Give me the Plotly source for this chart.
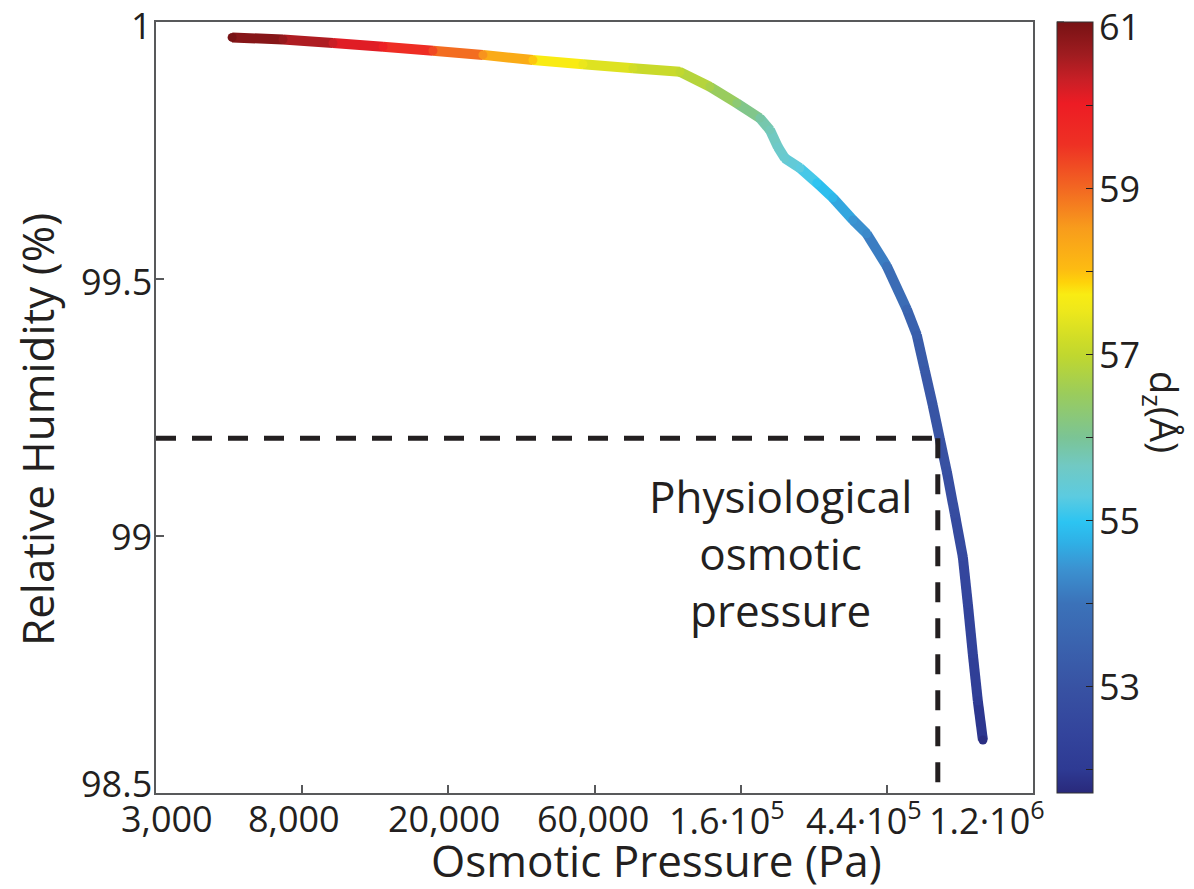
import numpy as np
import plotly.graph_objects as go
from plotly.colors import sample_colorscale

# ---------------- data ----------------
pressure_pa = [5050, 7150, 10070, 14180, 19950, 28090, 39540, 55680, 78390, 108100,
               132700, 159600, 186700, 200100, 211200, 221600, 245600, 275800, 307800,
               352800, 388200, 445200, 510600, 546600, 577500, 610200, 639600, 670800,
               708900, 748800, 774900, 801900, 829800, 859200]
rel_humidity = [99.970, 99.966, 99.959, 99.952, 99.944, 99.936, 99.926, 99.918, 99.910,
                99.903, 99.874, 99.842, 99.813, 99.790, 99.757, 99.735, 99.716, 99.687,
                99.658, 99.615, 99.588, 99.525, 99.441, 99.391, 99.322, 99.253, 99.189,
                99.126, 99.043, 98.959, 98.868, 98.770, 98.679, 98.603]
d_z = [61.0, 60.7, 60.3, 59.95, 59.3, 58.6, 57.95, 57.5, 57.2, 57.0,
       56.7, 56.3, 55.9, 55.75, 55.6, 55.5, 55.3, 55.0, 54.8, 54.45,
       54.3, 54.0, 53.6, 53.35, 53.2, 53.1, 53.0, 52.9, 52.75, 52.6,
       52.45, 52.3, 52.1, 51.8]

phys_pressure = 631000
phys_rh = 99.19

x_tick_vals = [3000, 8155, 22167, 60257, 163794, 445239, 1210286]
x_tick_text = ["3,000", "8,000", "20,000", "60,000",
               "1.6·10<sup>5</sup>", "4.4·10<sup>5</sup>", "1.2·10<sup>6</sup>"]
y_tick_vals = [98.5, 99, 99.5, 100]
y_tick_text = ["98.5", "99", "99.5", "1"]
cb_tick_vals = [52, 53, 54, 55, 56, 57, 58, 59, 60, 61]
cb_label_vals = [53, 55, 57, 59, 61]
cb_label_text = ["53", "55", "57", "59", "61"]

d_min, d_max = 51.72, 61.0
x_range_pa = [3000, 1210286]
y_range = [98.5, 100]

# ---------------- style ----------------
# label offsets (px) as placed in the original artwork
x_label_shift = [11, -8, -4, -2, -14, -23, -46]
y_label_shift = [10, 0, -2, -3]
cb_label_shift = [0, 0, 0, 0, -4]

stops = [(51.72, "#29297b"), (52.0, "#2e3a93"), (52.43, "#33449c"), (52.99, "#3852a3"),
         (53.49, "#3a62ae"), (54.0, "#3b72b9"), (54.42, "#3b92d1"), (54.73, "#2fb0e6"),
         (54.98, "#2cc4f2"), (55.29, "#5ccbe0"), (55.66, "#71c9c3"), (56.0, "#7bc495"),
         (56.53, "#9bcc5b"), (56.97, "#bfd730"), (57.16, "#cedc28"), (57.53, "#eee81b"),
         (57.72, "#f9ec13"), (57.87, "#fed20a"), (58.03, "#fdbb12"), (58.52, "#f89c1c"),
         (59.02, "#f26522"), (59.52, "#ee3124"), (60.02, "#ed1c24"), (60.3, "#c91f26"),
         (60.6, "#a01c20"), (61.0, "#771214")]
cscale = [[(v - d_min) / (d_max - d_min), c] for v, c in stops]

FONT = "Open Sans"
TXT = "#231f20"
AX = "#58595b"
LW = 10

# plot area in page pixels (the page body adds an 8 px offset)
PL, PR, PT, PB = 156, 1033, 22, 793
PW, PH = PR - PL, PB - PT


def px_x(p):
    return (p - PL) / PW


def px_y(p):
    return (PB - p) / PH


def cb_y(v):
    return (v - d_min) / (d_max - d_min)


fig = go.Figure()

# coloured curve, one segment per pair of consecutive points
for i in range(len(pressure_pa) - 1):
    dm = 0.5 * (d_z[i] + d_z[i + 1])
    col = sample_colorscale(cscale, [cb_y(dm)])[0]
    fig.add_trace(go.Scatter(x=pressure_pa[i:i + 2], y=rel_humidity[i:i + 2], mode="lines",
                             line=dict(color=col, width=LW), hoverinfo="skip",
                             showlegend=False))

# markers (fill joints) + colour bar
fig.add_trace(go.Scatter(
    x=pressure_pa, y=rel_humidity, mode="markers", showlegend=False,
    marker=dict(size=LW - 1, color=d_z, colorscale=cscale, cmin=d_min, cmax=d_max,
                line=dict(width=0), showscale=True,
                colorbar=dict(x=px_x(1057), xanchor="left", xref="paper",
                              y=0.5, yanchor="middle", yref="paper",
                              len=PH, lenmode="pixels", thickness=36,
                              thicknessmode="pixels", xpad=0, ypad=0,
                              outlinewidth=1, outlinecolor="#333333",
                              ticks="inside", ticklen=7, tickwidth=1, tickcolor=TXT,
                              tickvals=cb_tick_vals, showticklabels=False))))

# left-side ticks of the colour bar
for v in cb_tick_vals:
    fig.add_shape(type="line", xref="paper", yref="paper", x0=px_x(1057), x1=px_x(1064),
                  y0=cb_y(v), y1=cb_y(v), line=dict(color=TXT, width=1))

# physiological osmotic pressure guides
dash_style = dict(color=TXT, width=5, dash="20px,16px")
fig.add_trace(go.Scatter(x=[x_range_pa[0], phys_pressure], y=[phys_rh, phys_rh], mode="lines",
                         line=dash_style, showlegend=False, hoverinfo="skip"))
fig.add_trace(go.Scatter(x=[phys_pressure, phys_pressure], y=[phys_rh, y_range[0]],
                         mode="lines", line=dash_style, showlegend=False, hoverinfo="skip"))

fig.update_xaxes(type="log", range=[np.log10(x_range_pa[0]), np.log10(x_range_pa[1])],
                 tickvals=x_tick_vals, showticklabels=False, ticks="inside", ticklen=8,
                 tickwidth=1.5, tickcolor=AX, showline=True, linecolor=AX, linewidth=2,
                 mirror=True, showgrid=False, zeroline=False)
fig.update_yaxes(range=y_range, tickvals=y_tick_vals, showticklabels=False,
                 ticks="inside", ticklen=8, tickwidth=1.5, tickcolor=AX, showline=True,
                 linecolor=AX, linewidth=2, mirror=True, showgrid=False, zeroline=False)

tick_font = dict(family=FONT, size=36, color=TXT)
for v, t, s in zip(x_tick_vals, x_tick_text, x_label_shift):
    fig.add_annotation(text=t, xref="x", yref="paper", x=np.log10(v), y=px_y(818),
                       xshift=s, showarrow=False, xanchor="center", yanchor="middle",
                       font=tick_font)
for v, t, s in zip(y_tick_vals, y_tick_text, y_label_shift):
    fig.add_annotation(text=t, xref="paper", yref="y", x=px_x(154), y=v, yshift=s,
                       showarrow=False, xanchor="right", yanchor="middle", font=tick_font)
for v, t, s in zip(cb_label_vals, cb_label_text, cb_label_shift):
    fig.add_annotation(text=t, xref="paper", yref="paper", x=px_x(1097), y=cb_y(v), yshift=s,
                       showarrow=False, xanchor="left", yanchor="middle", font=tick_font)

ann_font = dict(family=FONT, size=44, color=TXT)
fig.add_annotation(text="Osmotic Pressure (Pa)", xref="paper", yref="paper",
                   x=px_x(656), y=px_y(860), showarrow=False,
                   xanchor="center", yanchor="middle", font=ann_font)
fig.add_annotation(text="Relative Humidity (%)", xref="paper", yref="paper",
                   x=px_x(37), y=px_y(430), showarrow=False, textangle=-90,
                   xanchor="center", yanchor="middle", font=ann_font)
fig.add_annotation(text="d<sub>z</sub>(Å)", xref="paper", yref="paper",
                   x=px_x(1163), y=px_y(412), showarrow=False, textangle=90,
                   xanchor="center", yanchor="middle", font=dict(family=FONT, size=38, color=TXT))
fig.add_annotation(text="Physiological<br>osmotic<br>pressure", xref="paper", yref="paper",
                   x=px_x(780), y=px_y(553), showarrow=False, align="center",
                   xanchor="center", yanchor="middle", font=ann_font)

fig.update_layout(width=1186, height=881, margin=dict(l=PL - 8, r=1194 - PR, t=PT - 8, b=889 - PB),
                  plot_bgcolor="white", paper_bgcolor="white", showlegend=False)

fig.write_html("out.html")
